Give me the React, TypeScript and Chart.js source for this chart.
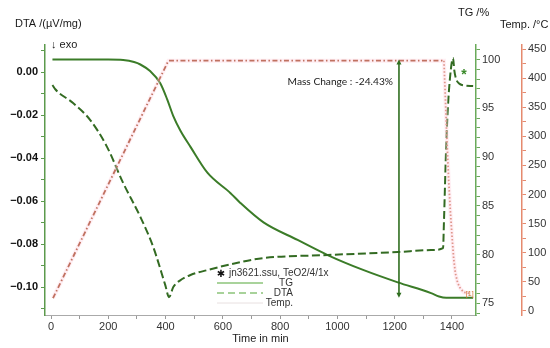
import React, { useEffect, useRef } from 'react';
import { Chart, registerables } from 'chart.js';

Chart.register(...registerables);

// ---- data (time in min) ----
const tgTime = [5, 100, 200, 252, 290, 312, 347, 381, 406, 427, 452, 487, 546, 627, 661, 742, 861, 966, 1092, 1211, 1327, 1355, 1380, 1474];
const tgValues = [100.0, 100.0, 100.0, 99.95, 99.75, 99.5, 98.8, 97.6, 95.9, 94.2, 92.7, 91.05, 88.4, 86.3, 85.3, 83.3, 81.5, 79.95, 78.4, 77.15, 76.05, 75.7, 75.57, 75.57];

const dtaTime = [5, 15, 77, 137, 196, 252, 312, 357, 399, 412, 427, 450, 487, 546, 661, 742, 966, 1211, 1327, 1369, 1372, 1380, 1386, 1393, 1400, 1404, 1408, 1414, 1424, 1442, 1474];
const dtaValues = [-0.006, -0.008, -0.0144, -0.0223, -0.0349, -0.0516, -0.0674, -0.0814, -0.0991, -0.1047, -0.1, -0.097, -0.0944, -0.0921, -0.0884, -0.0865, -0.0851, -0.0837, -0.0828, -0.0819, -0.07, -0.034, -0.016, -0.003, 0.005, 0.0065, 0.001, -0.003, -0.0052, -0.0062, -0.0065];

const tempTime = [7, 410, 1372, 1376, 1382, 1388, 1394, 1400, 1406, 1412, 1420, 1430, 1442, 1460];
const tempValues = [22, 430, 430, 380, 300, 230, 175, 130, 90, 65, 48, 38, 32, 30];
const coolingStart = 1372;

// tick positions (minor + labelled)
const xTicks = [0, 100, 200, 300, 400, 500, 600, 700, 800, 900, 1000, 1100, 1200, 1300, 1400];
const xTickLabels = [0, 200, 400, 600, 800, 1000, 1200, 1400];
const dtaTicks = [-0.11, -0.1, -0.09, -0.08, -0.07, -0.06, -0.05, -0.04, -0.03, -0.02, -0.01, 0, 0.01];
const dtaTickLabels = [-0.1, -0.08, -0.06, -0.04, -0.02, 0];
const tgTicks = [74, 75, 76, 77, 78, 79, 80, 81, 82, 83, 84, 85, 86, 87, 88, 89, 90, 91, 92, 93, 94, 95, 96, 97, 98, 99, 100, 101];
const tgTickLabels = [75, 80, 85, 90, 95, 100];
const tempTicks = [0, 25, 50, 75, 100, 125, 150, 175, 200, 225, 250, 275, 300, 325, 350, 375, 400, 425, 450];
const tempTickLabels = [0, 50, 100, 150, 200, 250, 300, 350, 400, 450];

const massChangeTime = 1215;
const massChangeStart = 100;
const massChange = -24.43;

const legendTitle = 'jn3621.ssu, TeO2/4/1x';
const legendLabels = ['TG', 'DTA', 'Temp.'];

const xTitle = 'Time in min';
const dtaTitle = 'DTA /(µV/mg)';
const tgTitle = 'TG /%';
const tempTitle = 'Temp. /°C';

const FONT = "'Liberation Sans', Arial, sans-serif";

const near = (arr: number[], v: number) => arr.some((a) => Math.abs(a - v) < 1e-6);

export default function App() {
  const ref = useRef<HTMLCanvasElement>(null);

  useEffect(() => {
    document.body.style.margin = '0';
    const canvas = ref.current!;
    const pts = (xs: number[], ys: number[]) => xs.map((x, i) => ({ x, y: ys[i] }));
    const setTicks = (vals: number[]) => (s: any) => {
      s.ticks = vals.map((value) => ({ value }));
    };
    const cooling = (c: any) => c.p0.parsed.x >= coolingStart;

    const overlay = {
      id: 'overlay',
      afterDatasetsDraw(chart: any) {
        const ctx = chart.ctx as CanvasRenderingContext2D;
        const xs = chart.scales.x;
        const ytg = chart.scales.yTG;
        const yt = chart.scales.yT;
        const yd = chart.scales.y;
        ctx.save();
        ctx.fillStyle = '#1a1a1a';
        ctx.textBaseline = 'middle';
        ctx.textAlign = 'left';
        ctx.font = `11px ${FONT}`;
        ctx.fillText(dtaTitle, 15, 24);
        ctx.fillText(tgTitle, 458, 13);
        ctx.fillText(tempTitle, 500, 25);
        ctx.fillText('↓ exo', 51, 45);

        const ax = xs.getPixelForValue(massChangeTime);
        const ay1 = ytg.getPixelForValue(massChangeStart);
        const ay2 = ytg.getPixelForValue(massChangeStart + massChange);
        ctx.strokeStyle = '#2f6e1f';
        ctx.fillStyle = '#2f6e1f';
        ctx.lineWidth = 1.6;
        ctx.beginPath();
        ctx.moveTo(ax, ay1 + 3);
        ctx.lineTo(ax, ay2 - 3);
        ctx.stroke();
        ctx.beginPath();
        ctx.moveTo(ax, ay1);
        ctx.lineTo(ax - 2.5, ay1 + 5);
        ctx.lineTo(ax + 2.5, ay1 + 5);
        ctx.closePath();
        ctx.fill();
        ctx.beginPath();
        ctx.moveTo(ax, ay2);
        ctx.lineTo(ax - 2.5, ay2 - 5);
        ctx.lineTo(ax + 2.5, ay2 - 5);
        ctx.closePath();
        ctx.fill();
        ctx.fillStyle = '#222';
        ctx.font = `10.2px Lato, ${FONT}`;
        ctx.textAlign = 'right';
        ctx.fillText(`Mass Change : ${massChange.toFixed(2)}%`, ax - 6, ay1 + 22);

        ctx.fillStyle = '#3a8a2a';
        ctx.font = `bold 14px ${FONT}`;
        ctx.textAlign = 'center';
        ctx.fillText('*', xs.getPixelForValue(1442), yd.getPixelForValue(0.0) + 3);

        ctx.fillStyle = '#d07030';
        ctx.font = `7px ${FONT}`;
        ctx.fillText('[1]', xs.getPixelForValue(1462), yt.getPixelForValue(30) + 1);

        ctx.fillStyle = '#111';
        ctx.font = `bold 10px 'DejaVu Sans', ${FONT}`;
        ctx.fillText('✱', 221, 274);
        ctx.fillStyle = '#333';
        ctx.font = `10px ${FONT}`;
        ctx.textAlign = 'left';
        ctx.fillText(legendTitle, 229, 273);
        ctx.textAlign = 'right';
        const ly = [283, 293, 303];
        legendLabels.forEach((l, i) => ctx.fillText(l, 293, ly[i]));
        ctx.lineWidth = 1.4;
        ctx.strokeStyle = '#8cc47a';
        ctx.beginPath();
        ctx.moveTo(217, ly[0]);
        ctx.lineTo(263, ly[0]);
        ctx.stroke();
        ctx.setLineDash([7, 4]);
        ctx.beginPath();
        ctx.moveTo(217, ly[1]);
        ctx.lineTo(263, ly[1]);
        ctx.stroke();
        ctx.setLineDash([]);
        ctx.strokeStyle = '#e8e0e0';
        ctx.lineWidth = 1;
        ctx.beginPath();
        ctx.moveTo(217, ly[2]);
        ctx.lineTo(263, ly[2]);
        ctx.stroke();
        ctx.restore();
      },
    };

    const chart = new Chart(canvas, {
      type: 'line',
      data: {
        datasets: [
          {
            label: 'halo',
            data: pts(tempTime, tempValues),
            yAxisID: 'yT',
            borderColor: 'rgba(255,205,220,0.35)',
            borderWidth: 4,
            pointRadius: 0,
            tension: 0,
          },
          {
            label: 'Temp.',
            data: pts(tempTime, tempValues),
            yAxisID: 'yT',
            borderColor: '#9e3f1e',
            borderWidth: 1.8,
            borderDash: [5, 2.5, 1.5, 2.5],
            pointRadius: 0,
            tension: 0,
            segment: {
              borderColor: (c: any) => (cooling(c) ? '#cf7a62' : undefined),
              borderDash: (c: any) => (cooling(c) ? [1.5, 2] : undefined),
            },
          },
          {
            label: 'DTA',
            data: pts(dtaTime, dtaValues),
            yAxisID: 'y',
            borderColor: '#336b22',
            borderWidth: 2,
            borderDash: [8, 3.5],
            pointRadius: 0,
            cubicInterpolationMode: 'monotone',
          },
          {
            label: 'TG',
            data: pts(tgTime, tgValues),
            yAxisID: 'yTG',
            borderColor: '#3b7c28',
            borderWidth: 2,
            pointRadius: 0,
            cubicInterpolationMode: 'monotone',
          },
        ],
      },
      options: {
        responsive: false,
        animation: false,
        events: [],
        layout: { padding: { top: 45, left: 0, right: 0, bottom: 0 } },
        plugins: { legend: { display: false }, tooltip: { enabled: false } },
        scales: {
          x: {
            type: 'linear',
            position: 'bottom',
            min: -21,
            max: 1484,
            afterBuildTicks: setTicks(xTicks),
            grid: { drawOnChartArea: false, drawTicks: true, tickLength: 4, color: '#999' },
            border: { color: '#aaa' },
            ticks: {
              autoSkip: false,
              maxRotation: 0,
              padding: 1,
              color: '#333',
              font: { family: FONT, size: 11 },
              callback: (v: any) => (near(xTickLabels, v) ? String(Math.round(v)) : ''),
            },
            title: { display: true, text: xTitle, color: '#222', font: { family: FONT, size: 11 }, padding: { top: 0, bottom: 2 } },
            afterFit: (s: any) => { s.height = 33; },
          },
          y: {
            type: 'linear',
            position: 'left',
            min: -0.113,
            max: 0.0126,
            afterBuildTicks: setTicks(dtaTicks),
            grid: { drawOnChartArea: false, drawTicks: true, tickLength: 4, color: '#5c9a4c' },
            border: { color: '#5c9a4c', width: 1.5 },
            ticks: {
              autoSkip: false,
              padding: 3,
              color: '#111',
              font: { family: FONT, size: 11, weight: 'bold' },
              callback: (v: any) => {
                if (!near(dtaTickLabels, v)) return '';
                const n = Math.round(v * 100);
                const s = (Math.abs(n) / 100).toFixed(2);
                return n < 0 ? '−' + s : s;
              },
            },
            afterFit: (s: any) => { s.width = 45; },
          },
          yTG: {
            type: 'linear',
            position: 'right',
            weight: 0,
            min: 73.8,
            max: 101.5,
            afterBuildTicks: setTicks(tgTicks),
            grid: { drawOnChartArea: false, drawTicks: true, tickLength: 4, color: '#6aaa5a' },
            border: { color: '#6aaa5a', width: 1.5 },
            ticks: {
              autoSkip: false,
              padding: 2,
              color: '#333',
              font: { family: FONT, size: 11 },
              callback: (v: any) => (near(tgTickLabels, v) ? String(Math.round(v)) : ''),
            },
            afterFit: (s: any) => { s.width = 46; },
          },
          yT: {
            type: 'linear',
            position: 'right',
            weight: 1,
            min: -7,
            max: 457,
            afterBuildTicks: setTicks(tempTicks),
            grid: { drawOnChartArea: false, drawTicks: true, tickLength: 4, color: '#e58a6e' },
            border: { color: '#e58a6e', width: 1.5 },
            ticks: {
              autoSkip: false,
              padding: 2,
              color: '#333',
              font: { family: FONT, size: 11 },
              callback: (v: any) => (near(tempTickLabels, v) ? String(Math.round(v)) : ''),
            },
            afterFit: (s: any) => { s.width = 28; },
          },
        },
      },
      plugins: [overlay],
    } as any);

    return () => chart.destroy();
  }, []);

  return (
    <div style={{ width: 550, height: 348, background: '#fff' }}>
      <canvas ref={ref} width={550} height={348} style={{ display: 'block' }} />
    </div>
  );
}
